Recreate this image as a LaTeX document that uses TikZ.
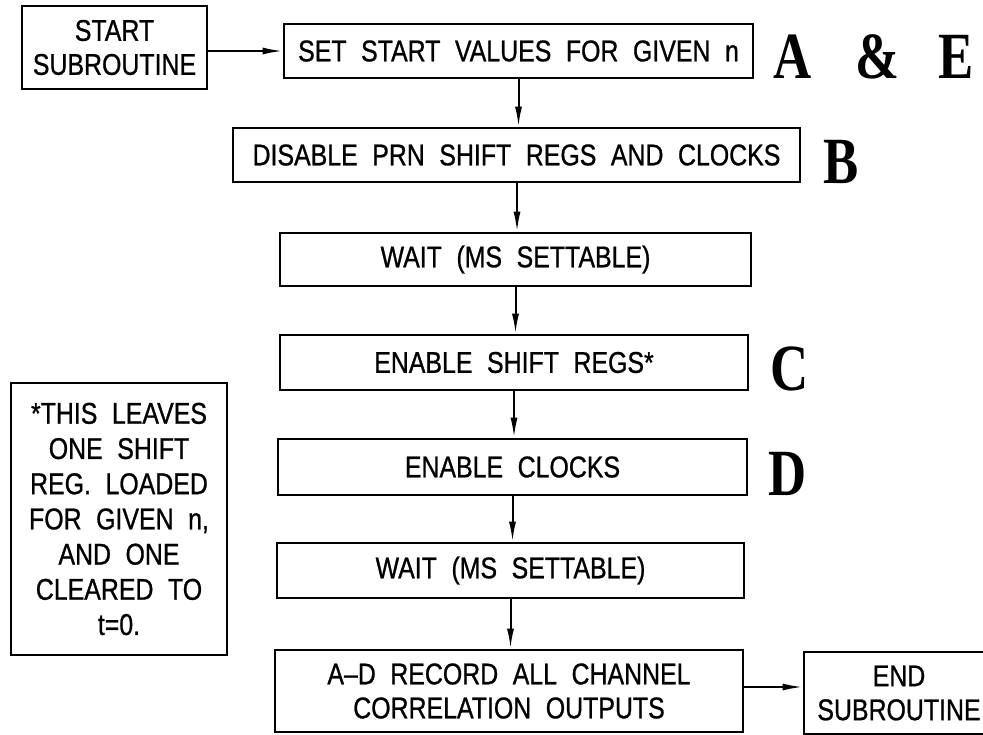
\documentclass[tikz,border=0pt]{standalone}
\usepackage{fontspec}
\usetikzlibrary{arrows.meta}
\newfontfamily\drawfont[FakeStretch=0.83,WordSpace=2.1,FakeBold=0.8]{Liberation Sans}
\newfontfamily\letterfont[FakeStretch=0.8]{Liberation Serif}
\tikzset{
  box/.style={draw, line width=2.6pt, inner sep=0pt, align=center,
    font=\drawfont\fontsize{30}{34}\selectfont},
  flow/.style={line width=2pt, -{Latex[length=20pt,width=7pt]}},
  tag/.style={inner sep=0pt, anchor=base west,
    font=\letterfont\bfseries\fontsize{66}{66}\selectfont}
}
\begin{document}
\begin{tikzpicture}[x=1pt,y=-1pt]
\useasboundingbox (0,0) rectangle (983,734);
\clip (0,0) rectangle (983,734);
\fill[white] (0,0) rectangle (983,734);

\node[box, minimum width=185pt, minimum height=83pt] (start) at (114.5,47.5) {START\\SUBROUTINE};
\node[box, minimum width=469pt, minimum height=54pt] (set) at (518.5,51) {SET START VALUES FOR GIVEN n};
\node[box, minimum width=567pt, minimum height=54pt] (dis) at (516.5,155) {DISABLE PRN SHIFT REGS AND CLOCKS};
\node[box, minimum width=471pt, minimum height=53pt] (wait1) at (515.5,259.5) {WAIT (MS SETTABLE)};
\node[box, minimum width=468pt, minimum height=55pt] (ens) at (514,362.5) {ENABLE SHIFT REGS*};
\node[box, minimum width=469pt, minimum height=56pt] (enc) at (512.5,467) {ENABLE CLOCKS};
\node[box, minimum width=467pt, minimum height=55pt] (wait2) at (510.5,570.5) {WAIT (MS SETTABLE)};
\node[box, minimum width=468pt, minimum height=82pt] (rec) at (509,691) {A–D RECORD ALL CHANNEL\\CORRELATION OUTPUTS};
\node[box, minimum width=190pt, minimum height=82pt] (end) at (899,693) {END\\SUBROUTINE};
\node[box, minimum width=216pt, minimum height=272pt, font=\drawfont\fontsize{30}{35.2}\selectfont] (note) at (119,519)
  {*THIS LEAVES\\ONE SHIFT\\REG. LOADED\\FOR GIVEN n,\\AND ONE\\CLEARED TO\\t=0.};

\node[tag] (tA) at (773,78) {A};
\node[tag] (tAmp) at (855,78) {\&};
\node[tag] (tE) at (938,78) {E};
\node[tag] (tB) at (823,183) {B};
\node[tag] (tC) at (770,390) {C};
\node[tag] (tD) at (768,495) {D};

\draw[flow] (set.west -| start.east) -- (set.west);
\draw[flow] (set.south) -- (set.south |- dis.north);
\draw[flow] ([xshift=0.5pt]dis.south) -- ([xshift=0.5pt]dis.south |- wait1.north);
\draw[flow] (wait1.south) -- (wait1.south |- ens.north);
\draw[flow] (ens.south) -- (ens.south |- enc.north);
\draw[flow] (enc.south) -- (enc.south |- wait2.north);
\draw[flow] (wait2.south) -- (wait2.south |- rec.north);
\draw[flow] ([yshift=4pt]rec.east) -- ([yshift=4pt]rec.east -| end.west);
\end{tikzpicture}
\end{document}
